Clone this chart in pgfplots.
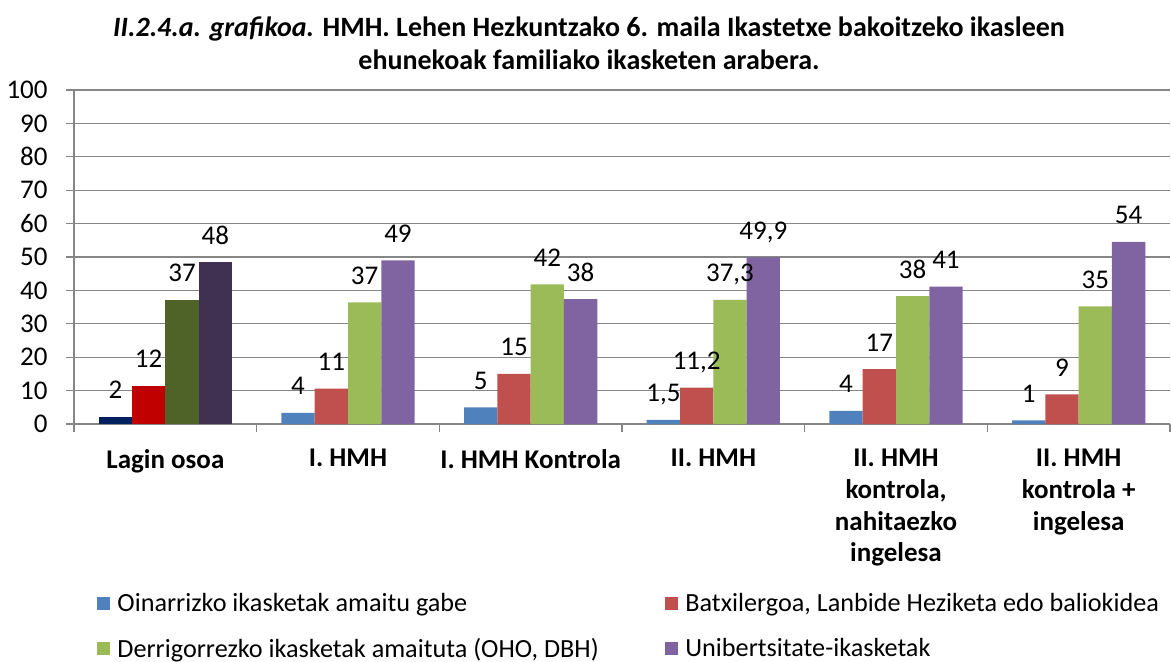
\documentclass[border=0pt]{standalone}
\usepackage{fontspec}
\setmainfont{Carlito}
\usepackage{pgfplots}
\pgfplotsset{compat=1.18}
\usepackage{pgfplotstable}

\definecolor{sblue}{HTML}{4F81BD}
\definecolor{sred}{HTML}{C0504D}
\definecolor{sgreen}{HTML}{9BBB59}
\definecolor{spurple}{HTML}{8064A2}
\definecolor{dblue}{HTML}{002060}
\definecolor{dred}{HTML}{C00000}
\definecolor{dgreen}{HTML}{4F6228}
\definecolor{dpurple}{HTML}{403152}
\definecolor{gridgray}{HTML}{868686}

% x = category (1..5), y = bar height, lab = printed label
\pgfplotstableread{
x y lab
1 3.3 4
2 5.0 5
3 1.2 1,5
4 3.9 4
5 1.1 1
}\oinarri
\pgfplotstableread{
x y lab
1 10.6 11
2 15.0 15
3 10.9 11,2
4 16.4 17
5 8.9 9
}\batxi
\pgfplotstableread{
x y lab
1 36.4 37
2 41.8 42
3 37.2 37,3
4 38.3 38
5 35.2 35
}\derri
\pgfplotstableread{
x y lab
1 49.0 49
2 37.4 38
3 49.9 49,9
4 41.1 41
5 54.5 54
}\unib

\newcommand{\txt}{\fontsize{13.5}{15.8}\selectfont}
\newcommand{\legtxt}{\fontsize{13.1}{15.8}\selectfont}

\begin{document}
\begin{tikzpicture}
\useasboundingbox (0pt,0pt) rectangle (585.5pt,-331pt);
\begin{axis}[
    at={(37pt,-212pt)}, anchor=south west,
    scale only axis, width=548pt, height=167pt,
    xmin=-0.5, xmax=5.5, ymin=0, ymax=100,
    ybar, bar width=16.65pt,
    axis x line*=bottom, axis y line*=left,
    axis line style={-, draw=gridgray, line width=0.6pt},
    ytick={0,10,...,100},
    ymajorgrids, major grid style={draw=gridgray, line width=0.6pt},
    xtick={0,...,5},
    xticklabels={Lagin osoa, I. HMH, I. HMH Kontrola, II. HMH,
        {II. HMH\\kontrola,\\nahitaezko\\ingelesa},
        {II. HMH\\kontrola +\\ingelesa}},
    minor xtick={-0.5,0.5,...,5.5},
    tick align=outside,
    major tick length=4pt, minor tick length=4pt,
    tick style={draw=gridgray, line width=0.6pt},
    major x tick style={draw=none},
    /pgf/number format/assume math mode=true,
    yticklabel style={font=\txt, anchor=east, inner sep=0pt, xshift=-9pt},
    xticklabel style={font=\txt\bfseries, align=center, anchor=north, inner sep=0pt, yshift=-8.5pt},
    nodes near coords, point meta=explicit symbolic,
    nodes near coords style={font=\txt, anchor=base, inner sep=0pt, yshift=9pt, black},
    legend columns=2,
    legend style={at={(0.021,-0.505)}, anchor=north west, draw=none, fill=none,
        inner sep=0pt, column sep=0pt, row sep=11.8pt, font=\legtxt,
        nodes={inner sep=0pt}},
    legend cell align=left,
    legend image code/.code={
        \fill[#1] (0pt,-3.25pt) rectangle (6.5pt,3.25pt);
        \path (10pt,0pt);
    },
]
\addplot[fill=sblue, draw=none, bar shift=-24.98pt] table[x=x, y=y, meta=lab] {\oinarri};
\addlegendentry{\makebox[274pt][l]{Oinarrizko ikasketak amaitu gabe}}
\addplot[fill=sred, draw=none, bar shift=-8.33pt] table[x=x, y=y, meta=lab] {\batxi};
\addlegendentry{Batxilergoa, Lanbide Heziketa edo baliokidea}
\addplot[fill=sgreen, draw=none, bar shift=8.33pt] table[x=x, y=y, meta=lab] {\derri};
\addlegendentry{\makebox[274pt][l]{Derrigorrezko ikasketak amaituta (OHO, DBH)}}
\addplot[fill=spurple, draw=none, bar shift=24.98pt] table[x=x, y=y, meta=lab] {\unib};
\addlegendentry{Unibertsitate-ikasketak}

% Lagin osoa in darker shades
\addplot[fill=dblue, draw=none, bar shift=-24.98pt, forget plot] coordinates {(0,2.1) [2]};
\addplot[fill=dred, draw=none, bar shift=-8.33pt, forget plot] coordinates {(0,11.5) [12]};
\addplot[fill=dgreen, draw=none, bar shift=8.33pt, forget plot] coordinates {(0,37.2) [37]};
\addplot[fill=dpurple, draw=none, bar shift=24.98pt, forget plot] coordinates {(0,48.4) [48]};
\end{axis}
\node[align=center, font=\bfseries\fontsize{14}{16.5}\selectfont] at (294.5pt,-21.75pt)
    {\textit{II.2.4.a. grafikoa.} HMH. Lehen Hezkuntzako 6. maila Ikastetxe bakoitzeko ikasleen\\
     ehunekoak familiako ikasketen arabera.};
\end{tikzpicture}
\end{document}
